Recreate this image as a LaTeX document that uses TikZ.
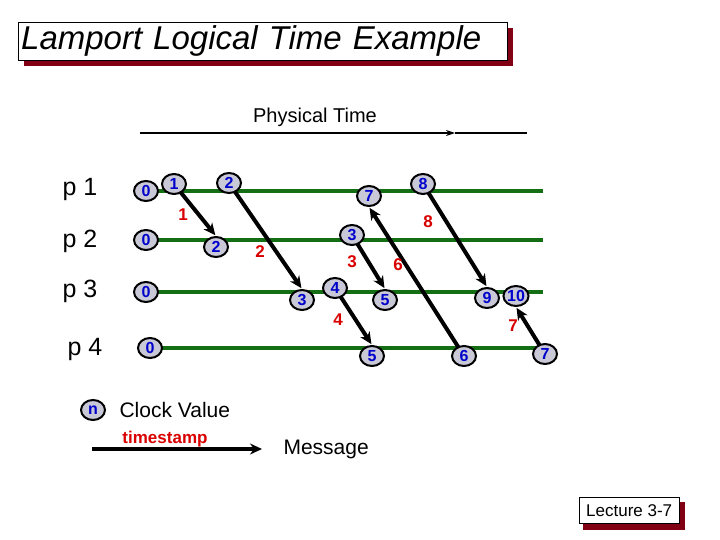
\documentclass[tikz,border=0pt]{standalone}
\usepackage{fontspec}
\setmainfont{Liberation Sans}
\usetikzlibrary{arrows.meta,shapes.geometric}
\definecolor{lineg}{RGB}{20,110,20}
\definecolor{shadowred}{RGB}{130,0,20}
\definecolor{clockfill}{RGB}{200,200,215}
\pgfdeclarelayer{back}
\pgfsetlayers{back,main}
\begin{document}
\begin{tikzpicture}[x=1pt,y=-1pt,
    clk/.style={ellipse, draw, line width=2pt, fill=clockfill, inner sep=0pt,
      minimum width=24pt, minimum height=20pt, text=blue!80!black,
      font=\fontsize{16}{16}\selectfont\bfseries},
    tstamp/.style={text=red!85!black, font=\fontsize{17}{17}\selectfont\bfseries},
    msg/.style={line width=4pt, -{Stealth[length=12pt,width=11pt]}, shorten >=1pt},
    proc/.style={font=\fontsize{25}{25}\selectfont},
    timeline/.style={lineg, line width=3.5pt}
  ]
  \useasboundingbox (0,0) rectangle (720,540);
  % title
  \fill[shadowred] (24,28) rectangle (513,66);
  \node[draw, fill=white, minimum width=489pt, minimum height=38pt, anchor=north west,
    inner xsep=3pt, align=left, text width=483pt,
    font=\fontsize{33}{33}\selectfont\itshape] (title) at (18,22) {Lamport Logical Time Example};
  % physical time
  \node[font=\fontsize{20}{20}\selectfont] (phys) at (315,117) {Physical Time};
  \coordinate (pt0) at (140,133);
  \coordinate (pt1) at (455,133);
  \coordinate (pt2) at (527,133);
  \draw[line width=1.2pt, -{Stealth[length=9pt,width=6pt]}] (pt0) -- (pt1);
  \draw[line width=1.2pt] (pt1) -- (pt2);
  % processes
  \node[proc] (p1) at (80,189) {p 1};
  \node[proc] (p2) at (80,241) {p 2};
  \node[proc] (p3) at (80,291) {p 3};
  \node[proc] (p4) at (85,349) {p 4};
  % clock values
  \node[clk] (a0) at (146,191) {0};
  \node[clk] (a1) at (174,184) {1};
  \node[clk] (a2) at (229,183) {2};
  \node[clk] (a7) at (369,196) {7};
  \node[clk] (a8) at (423,184) {8};
  \node[clk] (b0) at (146,240) {0};
  \node[clk] (b2) at (216,247) {2};
  \node[clk] (b3) at (352,235) {3};
  \node[clk] (c0) at (146,292) {0};
  \node[clk] (c3) at (302,300) {3};
  \node[clk] (c4) at (335,288) {4};
  \node[clk] (c5) at (385,300) {5};
  \node[clk] (c9) at (487,298) {9};
  \node[clk] (c10) at (516,296) {10};
  \node[clk] (d0) at (150,348) {0};
  \node[clk] (d5) at (372,356) {5};
  \node[clk] (d6) at (464,356) {6};
  \node[clk] (d7) at (545,354) {7};
  \begin{pgfonlayer}{back}
  % time lines
  \foreach \y/\n in {191/1,240/2,292/3,348/4}{
    \coordinate (l\n a) at (150,\y);
    \coordinate (l\n b) at (543,\y);
    \draw[timeline] (l\n a) -- (l\n b);
  }
  % messages
  \draw[msg] (a1.center) -- (b2.north);
  \draw[msg] (a2.center) -- (c3.north);
  \draw[msg] (b3.center) -- (c5.north);
  \draw[msg] (c4.center) -- (d5.north);
  \draw[msg] (d6.center) -- (a7.south);
  \draw[msg] (a8.center) -- (c9.north);
  \draw[msg] (d7.center) -- (c10.south);
  \end{pgfonlayer}
  % timestamps
  \node[tstamp] (t1) at (183,215) {1};
  \node[tstamp] (t2) at (260,252) {2};
  \node[tstamp] (t3) at (352,262) {3};
  \node[tstamp] (t4) at (338,320) {4};
  \node[tstamp] (t6) at (398,265) {6};
  \node[tstamp] (t8) at (428,222) {8};
  \node[tstamp] (t7) at (513,326) {7};
  % legend
  \node[clk] (n) at (93,410) {n};
  \node[font=\fontsize{21}{21}\selectfont, anchor=west] (cv) at (116,410) {Clock Value};
  \coordinate (m0) at (92,449);
  \coordinate (m1) at (263,449);
  \draw[msg] (m0) -- (m1);
  \node[tstamp] (ts) at (165,439) {timestamp};
  \node[font=\fontsize{21}{21}\selectfont, anchor=west] (ms) at (280,449) {Message};
  % lecture box
  \fill[shadowred] (583,502) rectangle (685,530);
  \node[draw, fill=white, minimum width=100pt, minimum height=26pt, anchor=north west,
    font=\fontsize{17}{17}\selectfont] (lect) at (579,497) {Lecture 3-7};
\end{tikzpicture}
\end{document}
